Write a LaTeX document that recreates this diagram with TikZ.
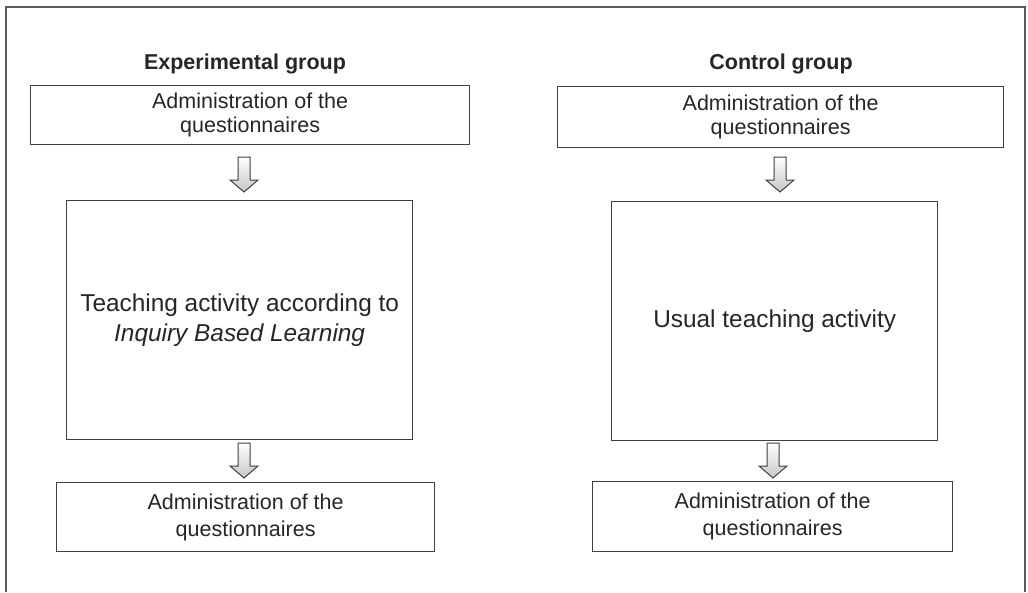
\documentclass[tikz,border=0pt]{standalone}
\usepackage{fontspec}
\setmainfont{Liberation Sans}
\begin{document}
\begin{tikzpicture}[x=1pt,y=-1pt,
  frameline/.style={draw=black!65,line width=1.3pt},
  box/.style={draw=black!75,line width=1.3pt,rectangle,anchor=north west,inner sep=0pt,align=center,text=black!85},
  smalltxt/.style={font=\fontsize{21.5}{24}\selectfont},
  bottomtxt/.style={font=\fontsize{21.5}{27}\selectfont},
  bigtxt/.style={font=\fontsize{24.4}{30}\selectfont},
  title/.style={font=\fontsize{21.5}{24}\selectfont\bfseries,text=black!85,inner sep=0pt},
  arrowline/.style={draw=black!75,line width=1pt,line join=miter,top color=white,bottom color=gray!45},
  blockarrow/.pic={\path[arrowline] (-6,0) -- (6,0) -- (6,23) -- (14,23) -- (0,35) -- (-14,23) -- (-6,23) -- cycle;}
]
\useasboundingbox (0,0) rectangle (1028,592);
\fill[white] (0,0) rectangle (1028,592);
\draw[frameline] (6,592) -- (6,7) -- (1025,7) -- (1025,592);

% titles
\node[title] (te) at (245,64) {Experimental group};
\node[title] (tc) at (781,64) {Control group};

% experimental group
\node[box,smalltxt,minimum width=439pt,minimum height=59pt] (e1) at (30,85) {Administration of the\\questionnaires};
\node[box,bigtxt,minimum width=346pt,minimum height=239pt] (e2) at (66,200) {Teaching activity according to\\\textit{Inquiry Based Learning}};
\node[box,bottomtxt,minimum width=378pt,minimum height=69pt] (e3) at (56,482) {Administration of the\\questionnaires};

% control group
\node[box,smalltxt,minimum width=446pt,minimum height=61pt] (c1) at (557,86) {Administration of the\\questionnaires};
\node[box,bigtxt,minimum width=326pt,minimum height=239pt] (c2) at (611,201) {Usual teaching activity};
\node[box,bottomtxt,minimum width=360pt,minimum height=70pt] (c3) at (592,481) {Administration of the\\questionnaires};

% block arrows between the boxes
\pic at (244,157) {blockarrow};
\pic at (244,443) {blockarrow};
\pic at (780,157) {blockarrow};
\pic at (773,443) {blockarrow};
\end{tikzpicture}
\end{document}
